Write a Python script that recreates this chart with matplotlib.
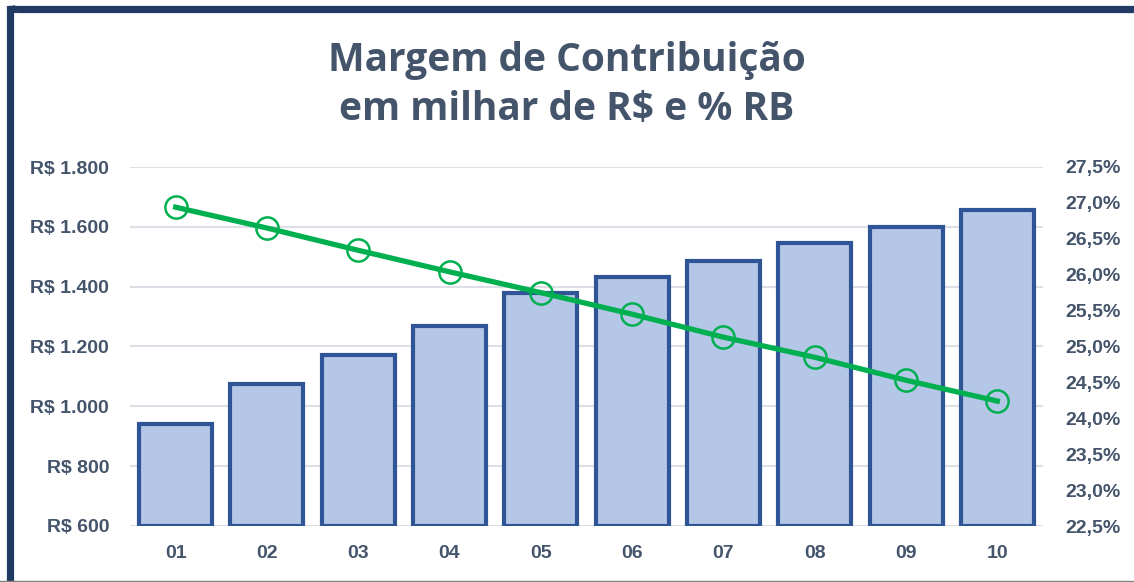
import matplotlib
matplotlib.use('Agg')
import matplotlib.pyplot as plt
from matplotlib.patches import FancyBboxPatch
from matplotlib.ticker import FuncFormatter, MultipleLocator

periods = ['01', '02', '03', '04', '05', '06', '07', '08', '09', '10']
margin_brl = [941, 1075, 1171, 1268, 1379, 1432, 1486, 1546, 1599, 1656]
margin_pct = [26.94, 26.65, 26.34, 26.04, 25.75, 25.45, 25.13, 24.85, 24.53, 24.24]

text_color = '#44546a'
tick_font = ['Liberation Sans', 'DejaVu Sans']
title_font = ['Open Sans', 'DejaVu Sans']

fig = plt.figure(figsize=(11.34, 5.82), dpi=100)

# chart frame (only top/left visible, like the screenshot crop)
frame = FancyBboxPatch((10.5 / 1134, 1 - 9.5 / 582), 1.2, -1.2,
                       boxstyle='round,pad=0,rounding_size=0.006',
                       transform=fig.transFigure, fill=False,
                       edgecolor='#213a63', linewidth=5.2)
fig.patches.append(frame)
fig.add_artist(plt.Line2D([0, 1], [1.5 / 582, 1.5 / 582], transform=fig.transFigure,
                          color='#7f7f7f', linewidth=1))

ax = fig.add_axes([130 / 1134, 1 - 526 / 582, 913 / 1134, 359 / 582])
x = list(range(len(periods)))
ymin = 600
ax.bar(x, [v - ymin for v in margin_brl], bottom=ymin, width=0.80,
       color='#b4c7e7', edgecolor='#2f5597', linewidth=3.0, zorder=3)
ax.set_ylim(600, 1800)
ax.set_xlim(-0.5, len(periods) - 0.5)
ax.yaxis.set_major_locator(MultipleLocator(200))
ax.yaxis.set_major_formatter(FuncFormatter(lambda v, p: 'R$ ' + f'{v:,.0f}'.replace(',', '.')))
ax.set_xticks(x)
ax.set_xticklabels(periods)
ax.grid(axis='y', color='#dcdfe5', linewidth=1.5, zorder=0)
ax.set_axisbelow(True)
for s in ax.spines.values():
    s.set_visible(False)
ax.tick_params(length=0, labelsize=14, labelcolor=text_color)
ax.tick_params(axis='y', pad=15)
ax.tick_params(axis='x', pad=14)
for lab in ax.get_xticklabels() + ax.get_yticklabels():
    lab.set_family(tick_font)
    lab.set_fontweight('bold')

ax2 = ax.twinx()
ax2.plot(x, margin_pct, color='#00b050', linewidth=3.8, marker='o', markersize=16,
         markerfacecolor='none', markeredgecolor='#00b050', markeredgewidth=1.8, zorder=4)
ax2.set_ylim(22.5, 27.5)
ax2.yaxis.set_major_locator(MultipleLocator(0.5))
ax2.yaxis.set_major_formatter(FuncFormatter(lambda v, p: f'{v:.1f}%'.replace('.', ',')))
for s in ax2.spines.values():
    s.set_visible(False)
ax2.tick_params(length=0, labelsize=14, labelcolor=text_color, pad=16)
for lab in ax2.get_yticklabels():
    lab.set_family(tick_font)
    lab.set_fontweight('bold')

fig.text(0.5, 1 - 60 / 582, 'Margem de Contribuição', ha='center', va='center',
         fontsize=28, fontweight='bold', color=text_color, family=title_font)
fig.text(0.5, 1 - 110 / 582, 'em milhar de R$ e % RB', ha='center', va='center',
         fontsize=28, fontweight='bold', color=text_color, family=title_font)

fig.savefig('out.png', dpi=100)
